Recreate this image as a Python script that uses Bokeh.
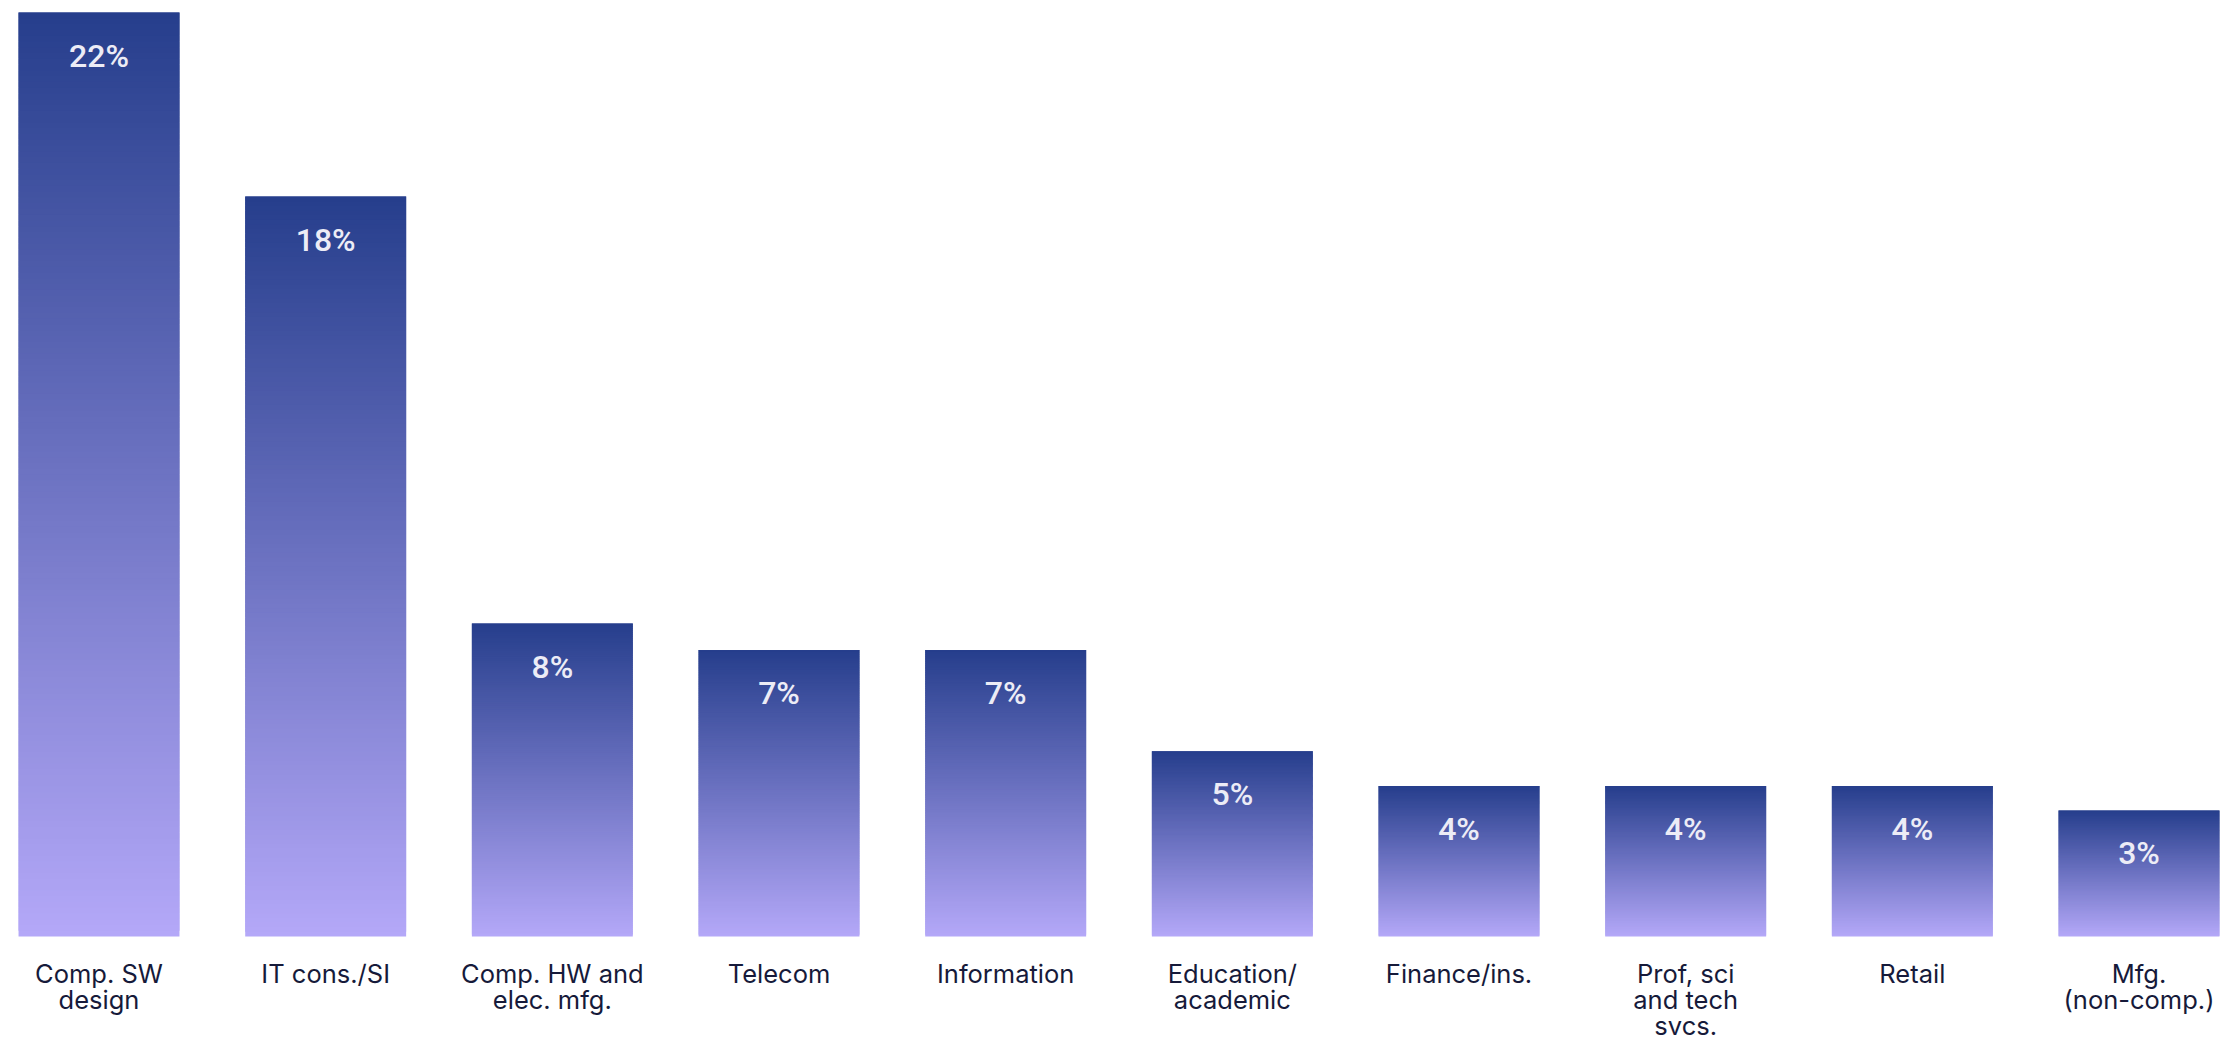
from bokeh.plotting import figure
from bokeh.models import ColumnDataSource, Range1d
from bokeh.core.properties import value
from bokeh.embed import file_html
from bokeh.resources import INLINE

categories = ["Comp. SW\ndesign", "IT cons./SI", "Comp. HW and\nelec. mfg.", "Telecom",
              "Information", "Education/\nacademic", "Finance/ins.",
              "Prof, sci\nand tech\nsvcs.", "Retail", "Mfg.\n(non-comp.)"]
shares = [22.35, 17.90, 7.57, 6.93, 6.93, 4.48, 3.64, 3.64, 3.64, 3.05]
share_labels = ["22%", "18%", "8%", "7%", "7%", "5%", "4%", "4%", "4%", "3%"]

TOP = (38, 62, 140)
BOTTOM = (180, 168, 248)
N = 160
BAR_W = 0.71

def mix(t):
    r = [round(BOTTOM[k] + (TOP[k] - BOTTOM[k]) * t) for k in range(3)]
    return "#%02x%02x%02x" % tuple(r)

xs = list(range(len(categories)))
left, right, bottom, top, color = [], [], [], [], []
for x, v in zip(xs, shares):
    for j in range(N):
        left.append(x - BAR_W / 2)
        right.append(x + BAR_W / 2)
        bottom.append(v * j / N)
        top.append(min(v * (j + 2) / N, v))
        color.append(mix((j + 0.5) / N))
slices = ColumnDataSource(dict(left=left, right=right, bottom=bottom, top=top, color=color))

p = figure(width=2227, height=1040, output_backend="svg", toolbar_location=None,
           x_axis_location=None, y_axis_location=None,
           x_range=Range1d(-0.4346, 9.3904), y_range=Range1d(-2.516, 22.642),
           min_border=0, min_border_left=0, min_border_right=0,
           min_border_top=0, min_border_bottom=0)
p.outline_line_color = None
p.grid.visible = False
p.background_fill_color = "white"
p.border_fill_color = "white"

p.quad(left="left", right="right", bottom="bottom", top="top", source=slices,
       fill_color="color", line_color=None)

lab = ColumnDataSource(dict(x=xs, y=shares, t=share_labels))
p.text(x="x", y="y", text="t", source=lab, text_align="center",
       text_baseline="alphabetic", y_offset=43, text_color="#ececf6",
       text_font=value("'Roboto Medium', Roboto"), text_font_style="bold",
       text_font_size="32px")

cat = ColumnDataSource(dict(x=xs, y=[0] * len(xs), t=categories))
p.text(x="x", y="y", text="t", source=cat, text_align="center",
       text_baseline="top", y_offset=22, text_color="#161a3a",
       text_font=value("Inter"), text_font_size="25.5px", text_line_height=0.83)

open("out.html", "w").write(file_html(p, INLINE))
